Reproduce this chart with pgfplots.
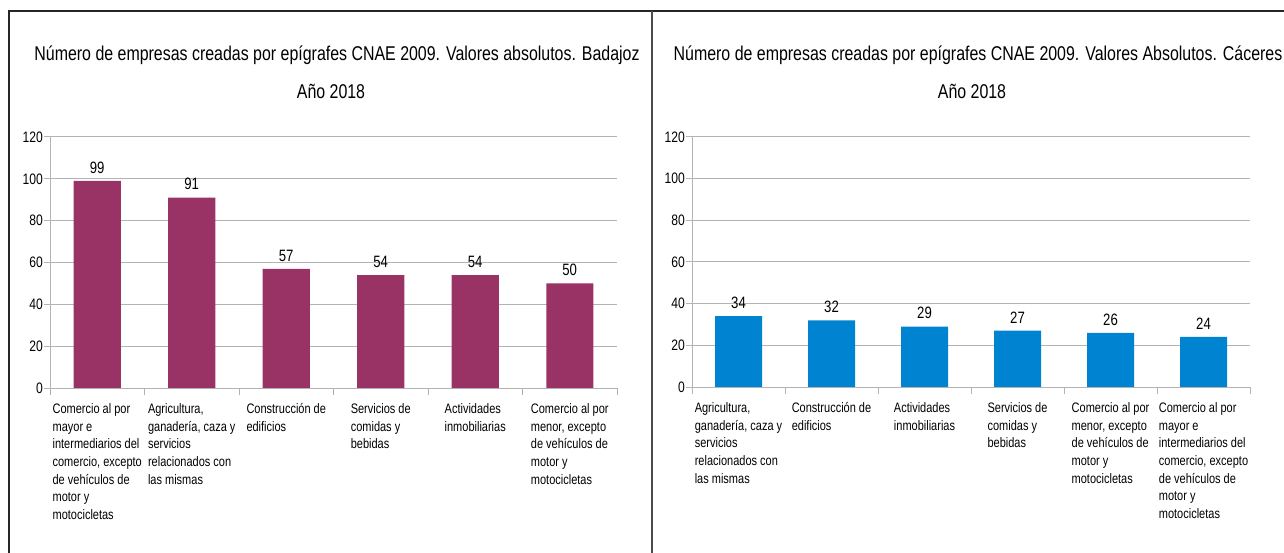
\documentclass[border=0pt]{standalone}
\usepackage{pgfplots}
\pgfplotsset{compat=1.18}
\usepackage{fontspec}
\setmainfont{Liberation Sans}[FakeStretch=0.80]
\definecolor{barL}{HTML}{993366}
\definecolor{barR}{HTML}{0084D1}
\definecolor{gridc}{HTML}{B3B3B3}
\pgfplotsset{
  panel/.style={
    scale only axis, anchor=south west,
    ymin=0, ymax=120, ytick={0,20,...,120},
    xmin=-0.5, xmax=5.5, xtick={0,1,2,3,4,5},
    minor xtick={-0.5,0.5,1.5,2.5,3.5,4.5,5.5},
    axis x line*=bottom, axis y line*=left,
    axis line style={gridc, line width=1bp, -},
    ymajorgrids, grid style={gridc, line width=1bp},
    tick align=outside, major tick length=6bp, minor tick length=7bp,
    every tick/.style={gridc, line width=1bp},
    every major x tick/.style={draw=none},
    /pgf/number format/assume math mode=true,
    yticklabel style={font=\fontsize{15.2}{17}\selectfont, inner sep=1bp},
    xticklabel style={align=left, anchor=north, font=\fontsize{13.8}{17.7}\selectfont, yshift=-6bp},
    ybar, bar width=47bp,
    nodes near coords,
    nodes near coords style={font=\fontsize{16.5}{18}\selectfont, yshift=4bp, /pgf/number format/assume math mode=true},
  }
}
\begin{document}
\begin{tikzpicture}
\useasboundingbox (0bp,0bp) rectangle (1284bp,553bp);
\draw[line width=1.3bp, black!85] (9bp,0bp) -- (9bp,542bp) -- (1284bp,542bp);
\draw[line width=1.3bp, black!70] (652bp,0bp) -- (652bp,542bp);
\node[font=\fontsize{20}{22}\selectfont] at (337bp,498bp) {Número de empresas creadas por epígrafes CNAE 2009. Valores absolutos. Badajoz};
\node[font=\fontsize{20}{22}\selectfont] at (331bp,462bp) {Año 2018};
\node[font=\fontsize{20}{22}\selectfont] at (978bp,498bp) {Número de empresas creadas por epígrafes CNAE 2009. Valores Absolutos. Cáceres};
\node[font=\fontsize{20}{22}\selectfont] at (972bp,462bp) {Año 2018};

\begin{axis}[panel, at={(50bp,165bp)}, width=567bp, height=251bp,
  xticklabels={{Comercio al por\\mayor e\\intermediarios del\\comercio, excepto\\de vehículos de\\motor y\\motocicletas},
    {Agricultura,\\ganadería, caza y\\servicios\\relacionados con\\las mismas},
    {Construcción de\\edificios},
    {Servicios de\\comidas y\\bebidas},
    {Actividades\\inmobiliarias},
    {Comercio al por\\menor, excepto\\de vehículos de\\motor y\\motocicletas}}]
\addplot[fill=barL, draw=none] coordinates {(0,99) (1,91) (2,57) (3,54) (4,54) (5,50)};
\end{axis}

\begin{axis}[panel, at={(692bp,166bp)}, width=558bp, height=250bp,
  xticklabels={{Agricultura,\\ganadería, caza y\\servicios\\relacionados con\\las mismas},
    {Construcción de\\edificios},
    {Actividades\\inmobiliarias},
    {Servicios de\\comidas y\\bebidas},
    {Comercio al por\\menor, excepto\\de vehículos de\\motor y\\motocicletas},
    {Comercio al por\\mayor e\\intermediarios del\\comercio, excepto\\de vehículos de\\motor y\\motocicletas}}]
\addplot[fill=barR, draw=none] coordinates {(0,34) (1,32) (2,29) (3,27) (4,26) (5,24)};
\end{axis}
\end{tikzpicture}
\end{document}
